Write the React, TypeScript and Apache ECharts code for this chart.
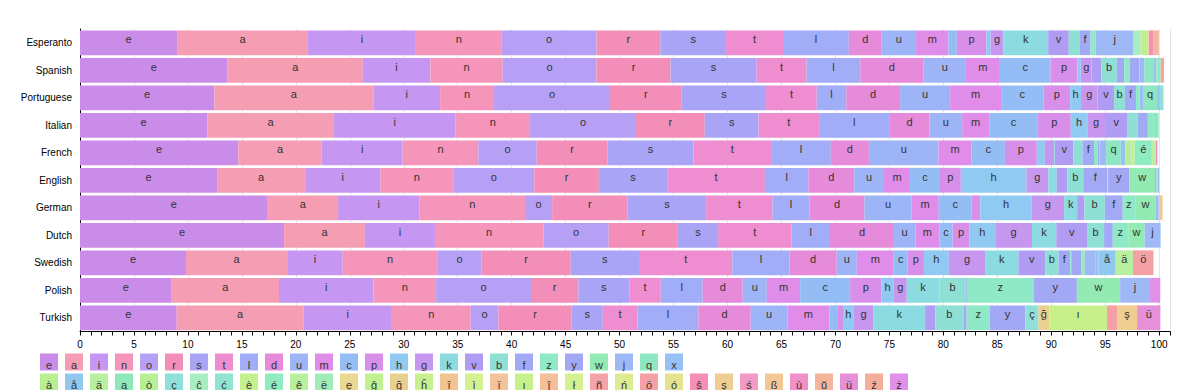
import React, { useEffect, useRef } from 'react';
import * as echarts from 'echarts';

const languages = ['Esperanto', 'Spanish', 'Portuguese', 'Italian', 'French', 'English', 'German', 'Dutch', 'Swedish', 'Polish', 'Turkish'];

const baseLetters = ['e', 'a', 'i', 'n', 'o', 'r', 's', 't', 'l', 'd', 'u', 'm', 'c', 'p', 'h', 'g', 'k', 'v', 'b', 'f', 'z', 'y', 'w', 'j', 'q', 'x'];
const accentLetters = ['à', 'å', 'ä', 'ą', 'ò', 'ç', 'ĉ', 'ć', 'è', 'é', 'ê', 'ë', 'ę', 'ĝ', 'ğ', 'ĥ', 'î', 'ì', 'ï', 'ı', 'ĵ', 'ł', 'ñ', 'ń', 'ö', 'ó', 'ŝ', 'ş', 'ś', 'ß', 'ù', 'ŭ', 'ü', 'ź', 'ż'];

// values in % for e a i n o r s t l d u m c p h g k v b f z y w j q x
const esperanto = [8.995, 12.117, 10.012, 7.955, 8.779, 5.914, 6.092, 5.276, 6.104, 3.044, 3.183, 2.994, 0.776, 2.755, 0.384, 1.171, 4.163, 1.904, 0.98, 1.037, 0.494, 0, 0, 3.501, 0, 0];
const spanish = [13.68, 12.53, 6.25, 6.71, 8.68, 6.87, 7.98, 4.63, 4.97, 5.86, 3.93, 3.15, 4.68, 2.51, 0.3, 1.01, 0.01, 0.9, 1.42, 0.69, 0.52, 0.9, 0.02, 0.44, 0.88, 0.22];
const portuguese = [12.45, 14.74, 6.18, 4.99, 10.75, 6.65, 7.81, 4.7, 2.73, 4.99, 4.64, 4.72, 3.93, 2.47, 1.0, 1.55, 0.02, 1.5, 1.0, 1.03, 0.3, 0.01, 0.03, 0.3, 1.31, 0.25];
const italian = [11.79, 11.74, 11.28, 6.88, 9.83, 6.37, 4.98, 5.62, 6.51, 3.73, 3.01, 2.51, 4.5, 3.05, 1.54, 1.64, 0, 2.1, 0.92, 0.95, 0.49, 0, 0, 0, 0.51, 0];
const french = [14.67, 7.73, 7.5, 7.01, 5.41, 6.55, 7.97, 7.2, 5.53, 3.53, 6.45, 3.05, 3.1, 2.96, 0.74, 0.87, 0.07, 1.7, 0.85, 1.07, 0.33, 0.13, 0.05, 0.61, 1.36, 0.43];
const english = [12.702, 8.167, 6.966, 6.749, 7.507, 5.987, 6.327, 9.056, 4.025, 4.253, 2.758, 2.406, 2.782, 1.929, 6.094, 2.015, 0.772, 0.978, 1.492, 2.228, 0.074, 1.974, 2.36, 0.153, 0.095, 0.15];
const german = [17.4, 6.51, 7.55, 9.78, 2.51, 7.0, 7.27, 6.15, 3.44, 5.08, 4.35, 2.53, 3.06, 0.79, 4.76, 3.01, 1.21, 0.67, 1.89, 1.66, 1.13, 0.04, 1.89, 0.27, 0.02, 0.03];
const dutch = [18.91, 7.49, 6.5, 10.03, 6.06, 6.41, 3.73, 6.79, 3.57, 5.93, 1.99, 2.21, 1.24, 1.57, 2.38, 3.4, 2.25, 2.85, 1.58, 0.81, 1.39, 0.035, 1.52, 1.46, 0.009, 0.036];
const swedish = [9.82, 9.38, 5.14, 8.76, 4.12, 8.25, 6.33, 8.65, 5.29, 4.38, 1.86, 3.42, 1.3, 1.5, 2.3, 3.37, 3.09, 2.47, 1.24, 1.08, 0.1, 0.95, 0.3, 0.95, 0.02, 0.3];
const polish = [8.5, 9.94, 8.75, 5.81, 8.79, 4.39, 4.72, 2.91, 3.89, 3.71, 2.23, 3.09, 4.63, 2.9, 1.15, 1.2, 3.0, 0.02, 2.43, 0.12, 6.17, 4.02, 4.01, 2.77, 0, 0];
const turkish = [8.96, 11.74, 8.2, 7.3, 2.57, 6.79, 2.88, 3.21, 5.65, 4.85, 3.4, 3.89, 0.8, 0.46, 1.0, 1.83, 4.78, 0.93, 2.62, 0.3, 2.14, 3.28, 0, 0.03, 0, 0];

// accented letters in %
const esperantoAccents: Record<string, number> = { 'ĉ': 0.657, 'ĝ': 0.691, 'ĥ': 0.022, 'ĵ': 0.055, 'ŝ': 0.385, 'ŭ': 0.52 };
const spanishAccents: Record<string, number> = { 'é': 0.4, 'ñ': 0.31 };
const portugueseAccents: Record<string, number> = { 'ç': 0.35 };
const italianAccents: Record<string, number> = {};
const frenchAccents: Record<string, number> = { 'à': 0.49, 'ç': 0.09, 'è': 0.27, 'é': 1.6, 'ê': 0.3, 'ë': 0.01, 'î': 0.05, 'ï': 0.01, 'ù': 0.15 };
const englishAccents: Record<string, number> = {};
const germanAccents: Record<string, number> = { 'ß': 0.31 };
const dutchAccents: Record<string, number> = {};
const swedishAccents: Record<string, number> = { 'å': 1.6, 'ä': 1.6, 'ö': 1.9 };
const polishAccents: Record<string, number> = { 'ż': 0.95 };
const turkishAccents: Record<string, number> = { 'ç': 1.2, 'ğ': 1.0, 'ı': 5.35, 'ö': 0.93, 'ş': 1.86, 'ü': 2.16 };

const letterColors: Record<string, string> = {
  e: '#c98ce8', a: '#f59db2', i: '#c597f3', n: '#f495b9', o: '#b6a0f5', r: '#f28eb8', s: '#a9a4f6', t: '#ee8dcf',
  l: '#a1adf7', d: '#e68bd9', u: '#9db5f6', m: '#df8de8', c: '#95bdf5', p: '#d78fea', h: '#90c9f2', g: '#c797f0',
  k: '#8cdbe0', v: '#b09df3', b: '#8ee0d4', f: '#a2aaf6', z: '#8fe8c6', y: '#a3a8f5', w: '#93eab2', j: '#9fb8f6',
  q: '#8ee6c2', x: '#97c1f5',
  'à': '#b8ef90', 'å': '#90c8f0', 'ä': '#b8f0a0', 'ą': '#8fe8b8', 'ò': '#b5f095', 'ç': '#8fe0d8', 'ĉ': '#a8eec0',
  'ć': '#8fe5d0', 'è': '#c5f090', 'é': '#90ebc0', 'ê': '#b8f0a0', 'ë': '#a0ecb8', 'ę': '#e8d890', 'ĝ': '#c0f090',
  'ğ': '#ead090', 'ĥ': '#c8f08f', 'î': '#f2c590', 'ì': '#d5f090', 'ï': '#f5c39a', 'ı': '#c8f08a', 'ĵ': '#f5be98',
  'ł': '#d5f090', 'ñ': '#f5a2a8', 'ń': '#e0ea90', 'ö': '#f5a0a5', 'ó': '#e5e290', 'ŝ': '#f58fb5', 'ş': '#f0cd90',
  'ś': '#f09ac5', 'ß': '#f5c695', 'ù': '#ef90c8', 'ŭ': '#f5b59c', 'ü': '#e590d8', 'ź': '#f5ae9c', 'ż': '#df90e8',
};

const FONT = '"Liberation Sans", Arial, Helvetica, sans-serif';

export default function App() {
  const ref = useRef<HTMLDivElement>(null);

  useEffect(() => {
    if (!ref.current) return;
    const chart = echarts.init(ref.current, null, { renderer: 'svg' });

    const baseTable = [esperanto, spanish, portuguese, italian, french, english, german, dutch, swedish, polish, turkish];
    const accentTable = [esperantoAccents, spanishAccents, portugueseAccents, italianAccents, frenchAccents, englishAccents, germanAccents, dutchAccents, swedishAccents, polishAccents, turkishAccents];
    const allLetters = [...baseLetters, ...accentLetters];

    const series = allLetters.map((letter, li) => ({
      name: letter,
      type: 'bar',
      stack: 'total',
      barCategoryGap: '10%',
      itemStyle: { color: letterColors[letter] },
      emphasis: { disabled: true },
      label: {
        show: true,
        position: 'inside',
        fontSize: 11,
        fontFamily: FONT,
        color: '#333',
        offset: [0, -3.5],
        formatter: (p: any) => (p.value >= 1 ? letter : ''),
      },
      data: languages.map((_, r) => (li < baseLetters.length ? baseTable[r][li] : accentTable[r][letter] ?? 0)),
    }));

    const legendRows = [baseLetters, accentLetters];
    const graphic = legendRows.flatMap((row, ri) =>
      row.map((letter, i) => ({
        type: 'group',
        x: 40 + i * 25,
        y: ri === 0 ? 353.5 : 373.5,
        children: [
          { type: 'rect', shape: { x: 0, y: 0, width: 18, height: 17 }, style: { fill: letterColors[letter] } },
          {
            type: 'text',
            x: 9,
            y: 11,
            style: {
              text: letter,
              fill: '#333',
              font: `11px ${FONT}`,
              textAlign: 'center',
              textVerticalAlign: 'middle',
              align: 'center',
              verticalAlign: 'middle',
            },
          },
        ],
      }))
    );

    chart.setOption({
      animation: false,
      grid: { left: 80, right: 30, top: 29, bottom: 58.5, containLabel: false },
      xAxis: {
        type: 'value',
        min: 0,
        max: 101,
        interval: 5,
        axisLine: { show: true, lineStyle: { color: '#000', width: 1 } },
        axisTick: { show: true, length: 4, lineStyle: { color: '#000' } },
        minorTick: { show: true, splitNumber: 5, length: 4, lineStyle: { color: '#000' } },
        splitLine: { show: true, lineStyle: { color: '#e4e4e4' } },
        axisLabel: { fontSize: 10, color: '#000', fontFamily: FONT, showMaxLabel: false, margin: 8 },
      },
      yAxis: {
        type: 'category',
        data: languages,
        inverse: true,
        axisLine: { show: true, lineStyle: { color: '#000', width: 1 } },
        axisTick: { show: false },
        splitLine: { show: false },
        axisLabel: { fontSize: 10, color: '#000', fontFamily: FONT, margin: 8 },
      },
      series,
      graphic,
    });

    return () => chart.dispose();
  }, []);

  return <div ref={ref} style={{ position: 'absolute', left: 0, top: 0, width: 1200, height: 390, background: '#fff' }} />;
}
